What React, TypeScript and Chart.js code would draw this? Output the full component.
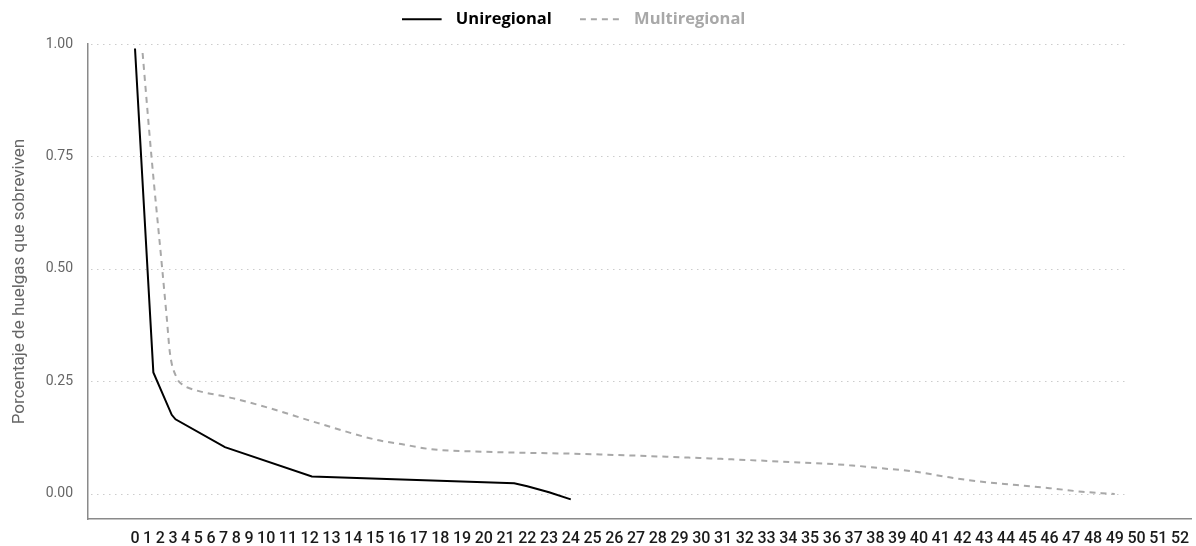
import React, { useEffect, useRef } from 'react';
import { Chart, LinearScale, registerables } from 'chart.js';

// ---------- data ----------
const xLabels = [
  '0', '1', '2', '3', '4', '5', '6', '7', '8', '9', '10', '11', '12', '13', '14', '15', '16', '17',
  '18', '19', '20', '21', '22', '23', '24', '25', '26', '27', '28', '29', '30', '31', '32', '33', '34',
  '35', '36', '37', '38', '39', '40', '41', '42', '43', '44', '45', '46', '47', '48', '49', '50', '51', '52',
];
const yTicks = [0, 0.25, 0.5, 0.75, 1];
const seriesNames = ['Uniregional', 'Multiregional'];
const yTitle = 'Porcentaje de huelgas que sobreviven';

// x positions are read in units of the axis labels
const uniDays = [0, 1.45, 2.9, 3.2, 7.1, 12.1, 21.4, 22, 23, 24];
const uniValues = [0.99, 0.27, 0.176, 0.166, 0.104, 0.039, 0.024, 0.017, 0.004, -0.012];

const multiDays = [
  0.6, 1.3, 2.15, 2.5, 2.76, 3.3, 3.8, 4.3, 7.7, 10.0, 12.35, 15.1, 16.2, 17.5, 19.9, 24.5, 29.1,
  33.7, 36.8, 38.3, 39.8, 41.4, 42.9, 44.5, 46.0, 47.5, 49.0,
];
const multiValues = [
  0.98, 0.75, 0.5, 0.394, 0.313, 0.258, 0.242, 0.235, 0.213, 0.193, 0.158, 0.12, 0.111, 0.1, 0.094,
  0.089, 0.0815, 0.072, 0.064, 0.057, 0.05, 0.037, 0.027, 0.02, 0.013, 0.005, 0.0,
];

// ---------- styles ----------
const UNI_COLOR = '#000000';
const MULTI_COLOR = '#a8a8a8';
const MULTI_DASH = [6, 5];
const FAMILY = 'Roboto, "Noto Sans", sans-serif';
const LEGEND_FAMILY = '"Open Sans", Roboto, sans-serif';
const X_TICK_SIZE = 16;
const X_TICK_WEIGHT = '500';
const X_START_INSET = 47;
const X_END_INSET = 11;
const LEGEND_SHIFT = -22;
const LEGEND_BOX_HEIGHT = 61;

// Linear scale whose tick labels are packed side by side (label width + equal gap)
class PackedScale extends LinearScale {
  static id = 'packed';
  static defaults = LinearScale.defaults;
  _pkKey: string = '';
  _pk: number[] = [];

  packedCenters(): number[] {
    const key = `${this.left}|${this.right}`;
    if (this._pkKey === key && this._pk.length) return this._pk;
    const ctx = (this as any).ctx as CanvasRenderingContext2D;
    ctx.save();
    ctx.font = `${X_TICK_WEIGHT} ${X_TICK_SIZE}px ${FAMILY}`;
    const w = xLabels.map((t) => ctx.measureText(t).width);
    ctx.restore();
    const n = w.length;
    const first = this.left + X_START_INSET;
    const last = this.right - X_END_INSET;
    let inner = 0;
    for (let i = 0; i < n - 1; i++) inner += (w[i] + w[i + 1]) / 2;
    const gap = (last - first - inner) / (n - 1);
    const c = [first];
    for (let i = 1; i < n; i++) c.push(c[i - 1] + (w[i - 1] + w[i]) / 2 + gap);
    this._pkKey = key;
    this._pk = c;
    return c;
  }

  getPixelForValue(value: any) {
    if (value === null || value === undefined || isNaN(value)) return NaN;
    const c = this.packedCenters();
    const n = c.length;
    const v = Number(value);
    if (v <= 0) return c[0] + v * (c[1] - c[0]);
    if (v >= n - 1) return c[n - 1] + (v - (n - 1)) * (c[n - 1] - c[n - 2]);
    const i = Math.floor(v);
    const t = v - i;
    return c[i] + t * (c[i + 1] - c[i]);
  }

  getValueForPixel(pixel: number) {
    const c = this.packedCenters();
    const n = c.length;
    if (pixel <= c[0]) return (pixel - c[0]) / (c[1] - c[0]);
    for (let i = 0; i < n - 1; i++) {
      if (pixel <= c[i + 1]) return i + (pixel - c[i]) / (c[i + 1] - c[i]);
    }
    return n - 1 + (pixel - c[n - 1]) / (c[n - 1] - c[n - 2]);
  }
}

Chart.register(...registerables, PackedScale as any);

function makeLegendLine(color: string, dash: number[]) {
  const c = document.createElement('canvas');
  c.width = 46;
  c.height = 4;
  const g = c.getContext('2d')!;
  g.strokeStyle = color;
  g.lineWidth = 2;
  g.setLineDash(dash);
  g.beginPath();
  g.moveTo(0, 2);
  g.lineTo(40, 2);
  g.stroke();
  return c;
}

const dottedGrid = {
  id: 'dottedGrid',
  beforeDatasetsDraw(chart: any) {
    const { ctx, chartArea, scales } = chart;
    const endDay = Math.max(...uniDays, ...multiDays) + 0.5;
    const xEnd = scales.x.getPixelForValue(endDay);
    ctx.save();
    ctx.strokeStyle = '#cccccc';
    ctx.lineWidth = 1;
    ctx.setLineDash([1.5, 4.5]);
    yTicks.forEach((v) => {
      const py = Math.round(scales.y.getPixelForValue(v)) + 0.5;
      ctx.beginPath();
      ctx.moveTo(chartArea.left + 3, py);
      ctx.lineTo(xEnd, py);
      ctx.stroke();
    });
    ctx.restore();
  },
};

const legendPlacement = {
  id: 'legendPlacement',
  beforeLayout(chart: any) {
    const lg = chart.legend;
    if (lg && !lg._fitPatched) {
      const orig = lg.fit;
      lg.fit = function (this: any) {
        orig.call(this);
        this.height = LEGEND_BOX_HEIGHT;
      };
      lg._fitPatched = true;
    }
  },
  afterLayout(chart: any) {
    const lg = chart.legend;
    if (lg) {
      lg.left += LEGEND_SHIFT;
      lg.right += LEGEND_SHIFT;
    }
  },
};

export default function App() {
  const ref = useRef<HTMLCanvasElement>(null);

  useEffect(() => {
    document.body.style.margin = '0';
    const canvas = ref.current;
    if (!canvas) return;
    const legendColors = [UNI_COLOR, MULTI_COLOR];

    const chart = new Chart(canvas, {
      type: 'line',
      data: {
        datasets: [
          {
            label: seriesNames[0],
            data: uniDays.map((d, i) => ({ x: d, y: uniValues[i] })),
            borderColor: UNI_COLOR,
            backgroundColor: UNI_COLOR,
            borderWidth: 2,
            pointRadius: 0,
            pointHoverRadius: 0,
            tension: 0,
            fill: false,
            pointStyle: makeLegendLine(UNI_COLOR, []) as any,
          },
          {
            label: seriesNames[1],
            data: multiDays.map((d, i) => ({ x: d, y: multiValues[i] })),
            borderColor: MULTI_COLOR,
            backgroundColor: MULTI_COLOR,
            borderWidth: 2,
            borderDash: MULTI_DASH,
            pointRadius: 0,
            pointHoverRadius: 0,
            cubicInterpolationMode: 'monotone',
            fill: false,
            pointStyle: makeLegendLine(MULTI_COLOR, MULTI_DASH) as any,
          },
        ],
      },
      plugins: [dottedGrid, legendPlacement],
      options: {
        responsive: false,
        animation: false,
        devicePixelRatio: 1,
        events: [],
        layout: { padding: { top: -17, right: 5, left: 0, bottom: 0 } },
        plugins: {
          tooltip: { enabled: false },
          legend: {
            position: 'top',
            align: 'center',
            labels: {
              usePointStyle: true,
              pointStyleWidth: 46,
              padding: 28,
              font: { family: LEGEND_FAMILY, size: 16.5, weight: 'bold' },
              generateLabels: (ch: any) => {
                const items = (Chart.defaults.plugins.legend.labels as any).generateLabels(ch);
                items.forEach((it: any, i: number) => {
                  it.fontColor = legendColors[i];
                });
                return items;
              },
            },
          },
        },
        scales: {
          x: {
            type: 'packed' as any,
            min: 0,
            max: xLabels.length - 1,
            afterBuildTicks: (s: any) => {
              s.ticks = xLabels.map((_, i) => ({ value: i }));
            },
            afterFit: (s: any) => {
              s.height = 27;
              s.paddingLeft = 0;
              s.paddingRight = 0;
            },
            grid: { display: false, drawTicks: false },
            border: { display: true, color: '#8a8a8a', width: 1.5 },
            ticks: {
              autoSkip: false,
              maxRotation: 0,
              minRotation: 0,
              color: '#1a1a1a',
              padding: 10,
              font: { family: FAMILY, size: X_TICK_SIZE, weight: X_TICK_WEIGHT as any },
              callback: (_v: any, i: number) => xLabels[i],
            },
          } as any,
          y: {
            type: 'linear',
            min: -0.0556,
            max: 1,
            afterBuildTicks: (s: any) => {
              s.ticks = yTicks.map((v) => ({ value: v }));
            },
            afterFit: (s: any) => {
              s.width = 88;
              s.paddingTop = 0;
              s.paddingBottom = 0;
            },
            grid: { display: false, drawTicks: false },
            border: { display: true, color: '#8a8a8a', width: 1.5 },
            ticks: {
              color: '#666666',
              padding: 15,
              font: { family: FAMILY, size: 14 },
              callback: (v: any) => Number(v).toFixed(2),
            },
            title: {
              display: true,
              text: yTitle,
              color: '#666666',
              font: { family: FAMILY, size: 17 },
              padding: { top: 10, bottom: 0 },
            },
          },
        },
      },
    });

    return () => chart.destroy();
  }, []);

  return <canvas ref={ref} width={1196} height={546} style={{ display: 'block' }} />;
}
